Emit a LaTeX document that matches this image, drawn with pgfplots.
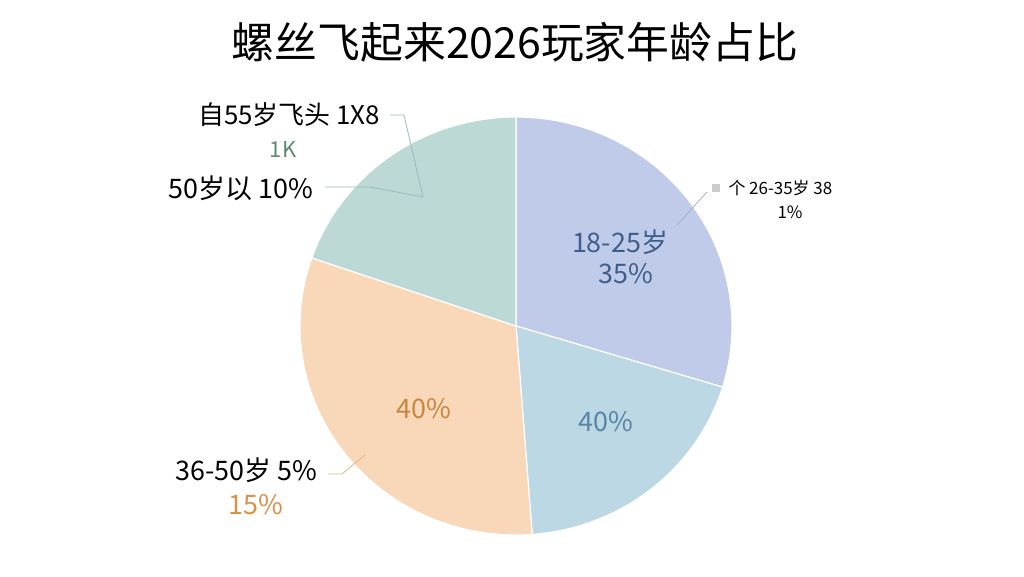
\documentclass[border=0pt]{standalone}
\usepackage{pgfplots}
\pgfplotsset{compat=1.18}
\usepackage{fontspec}
\setmainfont{Noto Sans CJK SC}
\definecolor{cBlue}{HTML}{BFCBE8}
\definecolor{cLBlue}{HTML}{BCD8E4}
\definecolor{cOrange}{HTML}{F8D8B8}
\definecolor{cGreen}{HTML}{BCD9D6}
\definecolor{tBlue}{HTML}{3F5E8C}
\definecolor{tLBlue}{HTML}{5A84A6}
\definecolor{tOrange}{HTML}{C98640}
\definecolor{tOrange2}{HTML}{D8914C}
\definecolor{tGreen}{HTML}{5F8A72}
\definecolor{lGreen}{HTML}{98B9BC}
\definecolor{lOrange}{HTML}{E6B480}
\definecolor{lBlue}{HTML}{9FB1CE}
\newcommand{\fs}[1]{\fontsize{#1}{#1}\selectfont}
% slice boundaries (degrees, counter-clockwise from east)
% 18-25: 90 -> -17 ; lightblue: -17 -> -85.7 ; orange: -85.7 -> -199 ; green: -199 -> -270
\def\cx{516}\def\cy{250}\def\rx{216}\def\ry{209}
\begin{document}
\begin{tikzpicture}
\begin{axis}[
  width=1024bp, height=576bp, scale only axis,
  xmin=0, xmax=1024, ymin=0, ymax=576,
  hide axis, clip=false,
]
\path (axis cs:0,0) rectangle (axis cs:1024,576);
\addplot[fill=cBlue, draw=white, line width=1.2pt, domain=-17:90, samples=80, variable=\t]
  ({\cx+\rx*cos(\t)},{\cy+\ry*sin(\t)}) -- (axis cs:\cx,\cy) -- cycle;
\addplot[fill=cLBlue, draw=white, line width=1.2pt, domain=-85.7:-17, samples=60, variable=\t]
  ({\cx+\rx*cos(\t)},{\cy+\ry*sin(\t)}) -- (axis cs:\cx,\cy) -- cycle;
\addplot[fill=cOrange, draw=white, line width=1.2pt, domain=-199:-85.7, samples=80, variable=\t]
  ({\cx+\rx*cos(\t)},{\cy+\ry*sin(\t)}) -- (axis cs:\cx,\cy) -- cycle;
\addplot[fill=cGreen, draw=white, line width=1.2pt, domain=-270:-199, samples=60, variable=\t]
  ({\cx+\rx*cos(\t)},{\cy+\ry*sin(\t)}) -- (axis cs:\cx,\cy) -- cycle;

% title
\node[font=\fs{43}] at (axis cs:515,534) {螺丝飞起来2026玩家年龄占比};

% leader lines
\draw[lGreen, line width=0.8pt] (axis cs:390,461) -- (axis cs:404,461) -- (axis cs:423,379);
\draw[lGreen, line width=0.8pt] (axis cs:325,389) -- (axis cs:370,389) -- (axis cs:423,379);
\draw[lBlue, line width=0.8pt] (axis cs:677,351) -- (axis cs:707,384);
\draw[lOrange, line width=0.8pt] (axis cs:328,102) -- (axis cs:342,102) -- (axis cs:365,121);

% outside labels
\node[font=\fs{26}] at (axis cs:289,461) {自55岁飞头 1X8};
\node[font=\fs{22}, text=tGreen] at (axis cs:283,427) {1K};
\node[font=\fs{27}] at (axis cs:241,388) {50岁以 10\%};
\node[font=\fs{27}] at (axis cs:246,106) {36-50岁 5\%};
\node[font=\fs{27}, text=tOrange2] at (axis cs:256,71) {15\%};
\node[fill=black!20, minimum size=8bp, inner sep=0pt] at (axis cs:716,388) {};
\node[font=\fs{17}, anchor=west] at (axis cs:725,388) {个 26-35岁 38};
\node[font=\fs{17}] at (axis cs:790,364) {1\%};

% inside labels
\node[font=\fs{27}, text=tBlue] at (axis cs:620,334) {18-25岁};
\node[font=\fs{27}, text=tBlue] at (axis cs:626,302) {35\%};
\node[font=\fs{27}, text=tLBlue] at (axis cs:606,154) {40\%};
\node[font=\fs{27}, text=tOrange] at (axis cs:424,167) {40\%};
\end{axis}
\end{tikzpicture}
\end{document}
